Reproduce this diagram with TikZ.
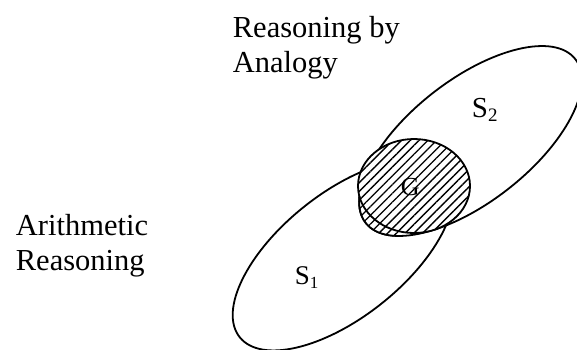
\documentclass[tikz,border=0pt]{standalone}
\usepackage{fontspec}
\setmainfont{Liberation Serif}
\usetikzlibrary{patterns.meta}
\begin{document}
\begin{tikzpicture}[x=1pt,y=-1pt, line width=1.8pt,
  lbl/.style={anchor=base west, inner sep=0pt, font=\fontsize{30.5}{35}\selectfont},
  setlbl/.style={anchor=base west, inner sep=0pt},
  hatched/.style={fill=white, postaction={pattern={Lines[angle=45,distance=6.2pt,line width=1.35pt]}}}]
\useasboundingbox (0,0) rectangle (577,349);
\coordinate (c1) at (343,255);
\coordinate (c2) at (470.5,141);
\coordinate (cg) at (414,186);
% S1 and S2
\draw[rotate around={38.5:(c1)}] (c1) ellipse [x radius=132, y radius=62];
\draw[rotate around={38:(c2)}] (c2) ellipse [x radius=133, y radius=61];
% tip of S2 beside G, hatched
\begin{scope}
  \clip[rotate around={38:(c2)}] (c2) ellipse [x radius=133, y radius=61];
  \path[hatched] (348,196) rectangle (402,246);
\end{scope}
% G
\path[hatched] (cg) ellipse [x radius=56, y radius=47];
\draw (cg) ellipse [x radius=56, y radius=47];
\begin{scope}
  \clip (348,196) rectangle (402,246);
  \draw[rotate around={38:(c2)}] (c2) ellipse [x radius=133, y radius=61];
\end{scope}
\node[setlbl, font=\fontsize{26}{26}\selectfont] (g) at (400,195) {G};
\node[lbl] (t1) at (232,37) {Reasoning by};
\node[lbl] (t2) at (232,72) {Analogy};
\node[lbl] (l1) at (15,235) {Arithmetic};
\node[lbl] (l2) at (15,270) {Reasoning};
\node[setlbl, font=\fontsize{27}{27}\selectfont] (s1) at (294,284) {S\raisebox{-4pt}{\fontsize{17}{17}\selectfont 1}};
\node[setlbl, font=\fontsize{29}{29}\selectfont] (s2) at (471,117) {S\raisebox{-4pt}{\fontsize{19}{19}\selectfont 2}};
\end{tikzpicture}
\end{document}
